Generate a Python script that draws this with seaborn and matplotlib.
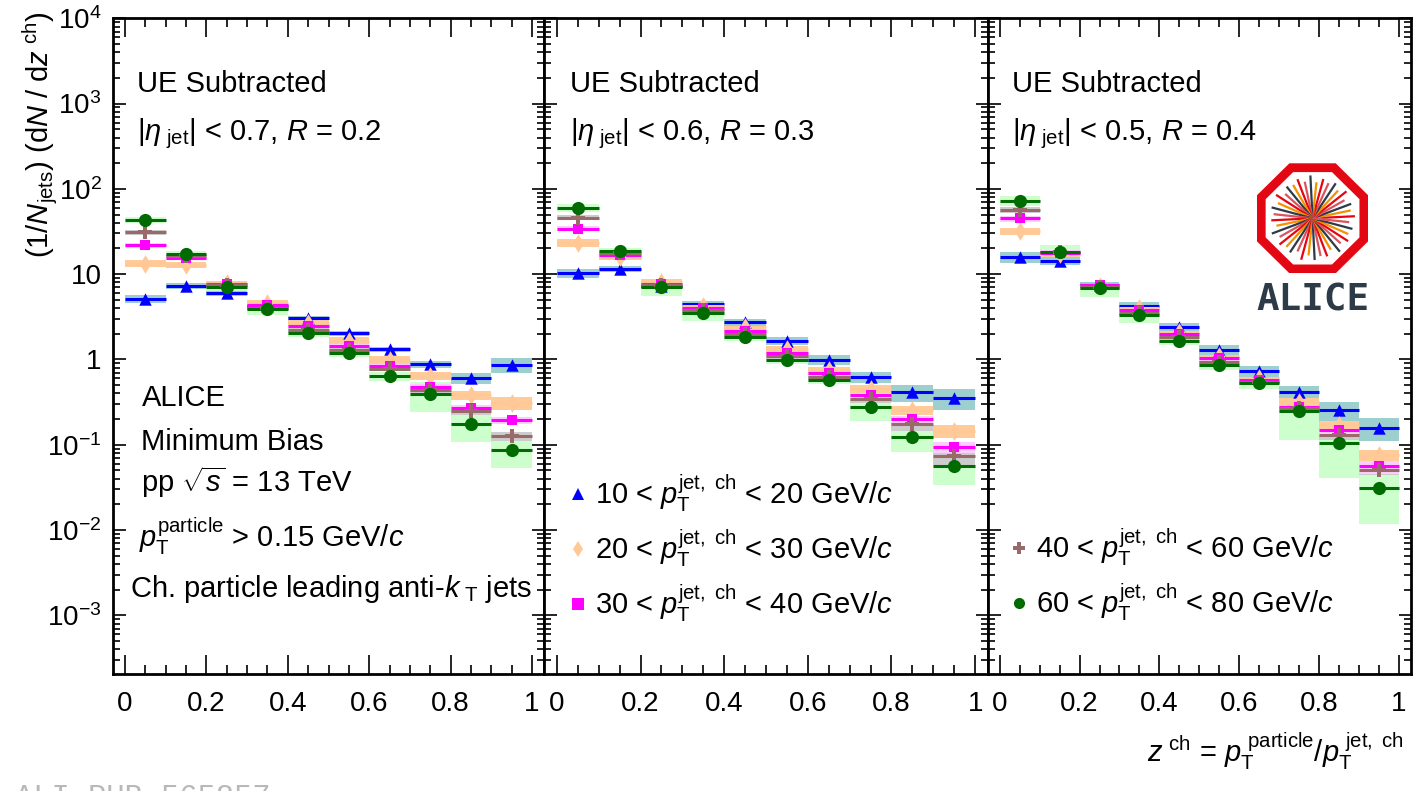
import numpy as np
import pandas as pd
import matplotlib
matplotlib.use("Agg")
import matplotlib.pyplot as plt
import seaborn as sns
from matplotlib.lines import Line2D
from matplotlib.patches import RegularPolygon
from matplotlib.ticker import FixedLocator, FixedFormatter, MultipleLocator, NullFormatter

# ---------------- data ----------------
z_centers = [0.05, 0.15, 0.25, 0.35, 0.45, 0.55, 0.65, 0.75, 0.85, 0.95]
bin_width = 0.1

series_keys = ["10-20", "20-30", "30-40", "40-60", "60-80"]
legend_labels = [
    r"10 < $p_{\mathrm{T}}^{\mathrm{jet,\ ch}}$ < 20 GeV/$c$",
    r"20 < $p_{\mathrm{T}}^{\mathrm{jet,\ ch}}$ < 30 GeV/$c$",
    r"30 < $p_{\mathrm{T}}^{\mathrm{jet,\ ch}}$ < 40 GeV/$c$",
    r"40 < $p_{\mathrm{T}}^{\mathrm{jet,\ ch}}$ < 60 GeV/$c$",
    r"60 < $p_{\mathrm{T}}^{\mathrm{jet,\ ch}}$ < 80 GeV/$c$",
]

# R = 0.2
r02_pt10 = [5.15, 7.3, 6.0, 4.2, 3.05, 2.03, 1.32, 0.88, 0.61, 0.86]
r02_pt20 = [13.3, 12.9, 7.8, 4.6, 2.7, 1.66, 0.99, 0.64, 0.38, 0.31]
r02_pt30 = [21.8, 15.3, 7.6, 4.4, 2.48, 1.45, 0.84, 0.48, 0.27, 0.194]
r02_pt40 = [31.0, 16.5, 7.4, 4.0, 2.22, 1.29, 0.77, 0.44, 0.25, 0.127]
r02_pt60 = [43.0, 17.4, 7.0, 3.9, 2.03, 1.18, 0.64, 0.39, 0.174, 0.086]
r02_sys10 = [0.12, 0.07, 0.07, 0.06, 0.06, 0.06, 0.07, 0.09, 0.15, 0.20]
r02_sys20 = [0.09, 0.08, 0.08, 0.07, 0.08, 0.09, 0.10, 0.10, 0.13, 0.17]
r02_sys30 = [0.06, 0.05, 0.05, 0.05, 0.05, 0.06, 0.06, 0.07, 0.09, 0.10]
r02_sys40 = [0.06, 0.05, 0.05, 0.05, 0.05, 0.06, 0.06, 0.08, 0.10, 0.12]
r02_sys60 = [0.08, 0.08, 0.12, 0.15, 0.10, 0.10, 0.12, 0.38, 0.38, 0.38]

# R = 0.3
r03_pt10 = [10.3, 11.5, 7.3, 4.5, 2.74, 1.65, 0.99, 0.62, 0.41, 0.35]
r03_pt20 = [23.3, 15.9, 8.2, 4.26, 2.37, 1.32, 0.75, 0.45, 0.255, 0.146]
r03_pt30 = [34.3, 17.0, 7.7, 4.0, 2.18, 1.2, 0.69, 0.38, 0.198, 0.094]
r03_pt40 = [45.8, 17.8, 7.5, 3.75, 1.98, 1.1, 0.63, 0.34, 0.177, 0.073]
r03_pt60 = [60.0, 18.5, 7.1, 3.5, 1.81, 0.99, 0.58, 0.28, 0.124, 0.056]
r03_sys10 = [0.13, 0.08, 0.06, 0.08, 0.10, 0.11, 0.13, 0.15, 0.22, 0.27]
r03_sys20 = [0.10, 0.08, 0.08, 0.08, 0.09, 0.10, 0.10, 0.10, 0.13, 0.18]
r03_sys30 = [0.07, 0.06, 0.06, 0.06, 0.06, 0.07, 0.07, 0.09, 0.10, 0.14]
r03_sys40 = [0.07, 0.06, 0.06, 0.06, 0.07, 0.07, 0.08, 0.10, 0.18, 0.20]
r03_sys60 = [0.10, 0.10, 0.22, 0.20, 0.10, 0.10, 0.12, 0.32, 0.34, 0.40]

# R = 0.4
r04_pt10 = [15.9, 14.4, 7.5, 4.26, 2.37, 1.29, 0.73, 0.42, 0.255, 0.159]
r04_pt20 = [31.9, 17.2, 7.3, 3.96, 2.12, 1.1, 0.60, 0.32, 0.17, 0.075]
r04_pt30 = [45.0, 17.8, 7.4, 3.75, 2.0, 1.03, 0.57, 0.28, 0.148, 0.056]
r04_pt40 = [57.0, 18.0, 7.1, 3.55, 1.82, 0.94, 0.55, 0.27, 0.129, 0.051]
r04_pt60 = [73.0, 18.2, 6.8, 3.34, 1.66, 0.86, 0.53, 0.25, 0.106, 0.031]
r04_sys10 = [0.15, 0.10, 0.08, 0.10, 0.14, 0.14, 0.14, 0.17, 0.25, 0.30]
r04_sys20 = [0.10, 0.08, 0.08, 0.08, 0.08, 0.09, 0.10, 0.12, 0.12, 0.15]
r04_sys30 = [0.08, 0.07, 0.07, 0.07, 0.07, 0.08, 0.08, 0.10, 0.13, 0.20]
r04_sys40 = [0.08, 0.07, 0.07, 0.07, 0.07, 0.08, 0.10, 0.10, 0.13, 0.14]
r04_sys60 = [0.14, 0.20, 0.20, 0.20, 0.12, 0.12, 0.14, 0.55, 0.62, 0.62]

x_tick_values = [0, 0.2, 0.4, 0.6, 0.8, 1.0]
x_tick_labels = ["0", "0.2", "0.4", "0.6", "0.8", "1"]
y_tick_values = [1e-3, 1e-2, 1e-1, 1, 10, 1e2, 1e3, 1e4]
y_tick_labels = [r"$10^{-3}$", r"$10^{-2}$", r"$10^{-1}$", "1", "10",
                 r"$10^{2}$", r"$10^{3}$", r"$10^{4}$"]

panel_eta_text = [
    r"$|\eta_{\ \mathrm{jet}}|$ < 0.7, $R$ = 0.2",
    r"$|\eta_{\ \mathrm{jet}}|$ < 0.6, $R$ = 0.3",
    r"$|\eta_{\ \mathrm{jet}}|$ < 0.5, $R$ = 0.4",
]
info_lines = [
    "ALICE",
    "Minimum Bias",
    r"pp $\sqrt{s}$ = 13 TeV",
    r"$p_{\mathrm{T}}^{\mathrm{particle}}$ > 0.15 GeV/$c$",
    r"Ch. particle leading anti-$k_{\ \mathrm{T}}$ jets",
]

panels = [
    ([r02_pt10, r02_pt20, r02_pt30, r02_pt40, r02_pt60],
     [r02_sys10, r02_sys20, r02_sys30, r02_sys40, r02_sys60]),
    ([r03_pt10, r03_pt20, r03_pt30, r03_pt40, r03_pt60],
     [r03_sys10, r03_sys20, r03_sys30, r03_sys40, r03_sys60]),
    ([r04_pt10, r04_pt20, r04_pt30, r04_pt40, r04_pt60],
     [r04_sys10, r04_sys20, r04_sys30, r04_sys40, r04_sys60]),
]

# ---------------- style ----------------
marker_col = ["#0000ff", "#ffc896", "#ff00ff", "#9a6a6a", "#006b00"]
box_col = ["#9ecfcf", "#ffcc99", "#ffccff", "#cccccc", "#ccffcc"]
markers = ["^", "d", "s", "P", "o"]
msizes = [80, 90, 60, 110, 90]

sns.set_theme(style="ticks")
plt.rcParams.update({
    "font.family": ["Liberation Sans", "DejaVu Sans"],
    "mathtext.fontset": "custom",
    "mathtext.rm": "Liberation Sans",
    "mathtext.it": "Liberation Sans:italic",
    "mathtext.bf": "Liberation Sans:bold",
    "mathtext.sf": "Liberation Sans",
    "axes.linewidth": 2.0,
    "axes.edgecolor": "black",
    "xtick.color": "black",
    "ytick.color": "black",
    "text.color": "black",
})

FS = 21      # annotation text
FST = 20     # tick labels
fig = plt.figure(figsize=(14.2, 7.91), dpi=100)
W, H = 1420.0, 791.0
bot_px, top_px = 674.0, 18.3
edges = [112.7, 544.3, 987.7, 1411.0]

axes = []
for i in range(3):
    l = edges[i] / W
    w = (edges[i + 1] - edges[i]) / W
    b = (H - bot_px) / H
    h = (bot_px - top_px) / H
    ax = fig.add_axes([l, b, w, h])
    axes.append(ax)

draw_order = [4, 3, 2, 1, 0]
for p, ax in enumerate(axes):
    ax.set_yscale("log")
    vals_list, sys_list = panels[p]
    # boxes (systematics)
    for k in draw_order:
        v = np.array(vals_list[k])
        s = np.array(sys_list[k])
        ax.bar(z_centers, 2 * s * v, bottom=v * (1 - s), width=bin_width,
               color=box_col[k], linewidth=0, zorder=1)
    # horizontal bin-width bars + markers
    for k in draw_order:
        v = np.array(vals_list[k])
        zc = np.array(z_centers)
        ax.hlines(v, zc - bin_width / 2, zc + bin_width / 2,
                  color=marker_col[k], linewidth=2.2, zorder=3 + k * 0.1)
        df = pd.DataFrame({"z": z_centers, "val": vals_list[k]})
        sns.scatterplot(data=df, x="z", y="val", ax=ax, marker=markers[k],
                        s=msizes[k], color=marker_col[k], linewidth=0,
                        zorder=4 + k * 0.1, legend=False)
    ax.set_xlim(-0.03, 1.03)
    ax.set_ylim(2.05e-4, 1e4)
    ax.set_xlabel("")
    ax.set_ylabel("")
    ax.xaxis.set_major_locator(FixedLocator(x_tick_values))
    ax.xaxis.set_major_formatter(FixedFormatter(x_tick_labels))
    ax.xaxis.set_minor_locator(MultipleLocator(0.05))
    ax.yaxis.set_major_locator(FixedLocator(y_tick_values))
    minors = [m * 10.0 ** e for e in range(-4, 4) for m in range(2, 10)]
    ax.yaxis.set_minor_locator(FixedLocator(minors))
    ax.yaxis.set_minor_formatter(NullFormatter())
    if p == 0:
        ax.yaxis.set_major_formatter(FixedFormatter(y_tick_labels))
    else:
        ax.yaxis.set_major_formatter(NullFormatter())
    ax.tick_params(which="both", direction="in", top=True, right=True,
                   width=1.2, labelsize=FST)
    ax.tick_params(axis="x", which="major", length=14, pad=12)
    ax.tick_params(axis="x", which="minor", length=6.5)
    ax.tick_params(axis="y", which="major", length=9, pad=8)
    ax.tick_params(axis="y", which="minor", length=5)
    for sp in ax.spines.values():
        sp.set_linewidth(2.0)
        sp.set_zorder(10)
    ax.set_facecolor("white")

    ax.text(0.057, 0.888, "UE Subtracted", transform=ax.transAxes,
            fontsize=FS, ha="left", va="baseline")
    ax.text(0.057, 0.814, panel_eta_text[p], transform=ax.transAxes,
            fontsize=FS, ha="left", va="baseline")

# info text in panel 1
info_pos = [(0.067, 0.408), (0.065, 0.341), (0.065, 0.277), (0.060, 0.194), (0.040, 0.118)]
for (x, y), t in zip(info_pos, info_lines):
    axes[0].text(x, y, t, transform=axes[0].transAxes, fontsize=FS,
                 ha="left", va="baseline")

# legends
def handles(idx):
    return [Line2D([], [], ls="none", marker=markers[k], color=marker_col[k],
                   markeredgewidth=0, markersize=8) for k in idx]

leg1 = axes[1].legend(handles(range(3)), legend_labels[:3], loc="upper left",
                      bbox_to_anchor=(0.056, 0.307), frameon=False, fontsize=FS,
                      handlelength=0.6, handletextpad=0.3, labelspacing=0.48,
                      borderaxespad=0, borderpad=0)
leg2 = axes[2].legend(handles(range(3, 5)), legend_labels[3:], loc="upper left",
                      bbox_to_anchor=(0.053, 0.225), frameon=False, fontsize=FS,
                      handlelength=0.6, handletextpad=0.3, labelspacing=0.48,
                      borderaxespad=0, borderpad=0)

# axis titles
fig.text(40 / W, 1 - 11 / H,
         r"(1/$N_{\mathrm{jets}}$) (d$N$ / d$z^{\ \mathrm{ch}}$)",
         rotation=90, ha="center", va="top", fontsize=FS)
fig.text(1404 / W, (H - 762) / H,
         r"$z^{\ \mathrm{ch}}$ = $p_{\mathrm{T}}^{\ \mathrm{particle}}$/$p_{\mathrm{T}}^{\ \mathrm{jet,\ ch}}$",
         ha="right", va="baseline", fontsize=FS)

# ALICE logo
lax = fig.add_axes([1256.7 / W, (H - 273.3) / H, 111.7 / W, 110 / H])
lax.set_xlim(-1.0, 1.0)
lax.set_ylim(-1.0, 1.0)
lax.axis("off")
R_out = 1.0 / np.cos(np.pi / 8)
lax.add_patch(RegularPolygon((0, 0), 8, radius=R_out, orientation=np.pi / 8,
                             facecolor="#e30613", edgecolor="none"))
lax.add_patch(RegularPolygon((0, 0), 8, radius=0.84 * R_out, orientation=np.pi / 8,
                             facecolor="white", edgecolor="none"))
ray_cols = ["#e30613", "#f39200", "#2d3a48", "#d9545f"]
ray_len = [0.76, 0.70, 0.74, 0.66, 0.78, 0.68]
n_rays = 40
for j in range(n_rays):
    a = 2 * np.pi * j / n_rays + 0.05
    L = ray_len[j % len(ray_len)]
    lax.plot([0, L * np.cos(a)], [0, L * np.sin(a)], color=ray_cols[j % 4],
             lw=1.6, solid_capstyle="butt")
fig.text(1312.5 / W, (H - 310) / H, "ALICE", ha="center", va="baseline",
         fontsize=27, fontweight="bold", family="DejaVu Sans Mono", color="#2d3a48")

# bottom-left watermark (clipped at the figure edge, as in the reference)
fig.text(15 / W, (H - 806) / H, "ALI-PUB-565857", ha="left", va="baseline",
         fontsize=22, family="Liberation Mono", color="#b8b8b8")

fig.savefig("out.png", dpi=100)
